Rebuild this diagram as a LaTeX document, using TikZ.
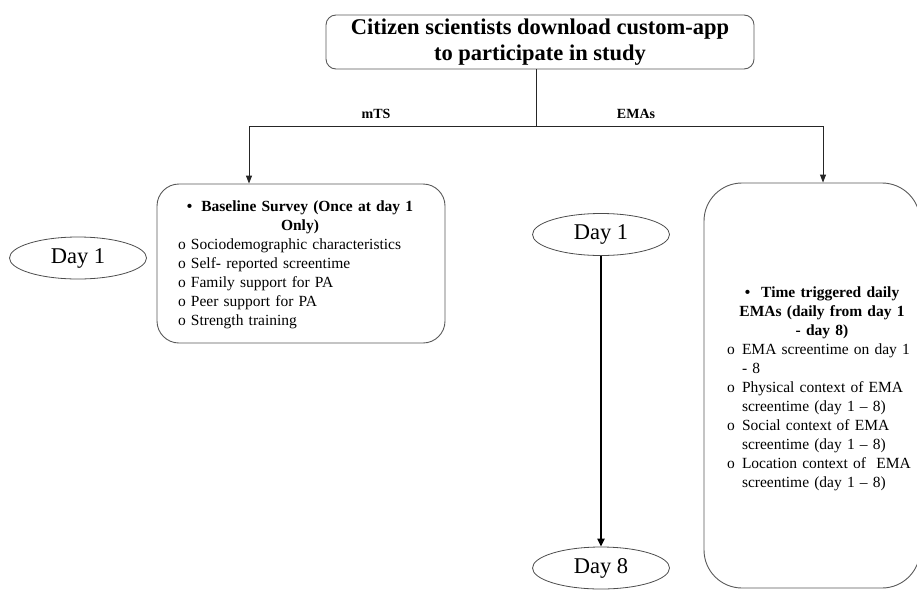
\documentclass[tikz,border=0pt]{standalone}
\usepackage{fontspec}
\setmainfont{Liberation Serif}
\usetikzlibrary{shapes.geometric,arrows.meta}

\begin{document}
\begin{tikzpicture}[x=1pt, y=-1pt,
	titlebox/.style={draw=black!65, line width=0.9pt, rounded corners=10pt, align=center, inner sep=0pt, font=\fontsize{22.5}{26}\selectfont\bfseries},
	surveybox/.style={draw=black!65, line width=0.9pt, rounded corners=22pt, inner sep=0pt},
	emabox/.style={draw=black!65, line width=0.9pt, rounded corners=38pt, inner sep=0pt},
	dayoval/.style={ellipse, draw=black!70, line width=0.8pt, minimum width=137pt, minimum height=42pt, inner sep=0pt, font=\fontsize{22.5}{27}\selectfont},
	itemtext/.style={inner sep=0pt, align=left, font=\fontsize{15.5}{19}\selectfont},
	branchlbl/.style={inner sep=0pt, font=\fontsize{14}{16}\selectfont\bfseries},
	link/.style={draw=black!85, line width=0.9pt, -{Triangle[width=6pt,length=8pt]}}]
	\useasboundingbox (0,0) rectangle (917,589);

	\node[titlebox, minimum width=428pt, minimum height=54pt] (title) at (540,42) {Citizen scientists download custom-app\\to participate in study};

	% the two branches
	\coordinate (split) at (536,126);
	\coordinate (mtsturn) at (249,126);
	\coordinate (ematurn) at (823,126);
	\node[branchlbl] (mtslbl) at (376,114) {mTS};
	\node[branchlbl] (emalbl) at (636,114) {EMAs};

	\node[surveybox, minimum width=288pt, minimum height=159pt] (survey) at (301,263.5) {};
	\node[emabox, minimum width=216pt, minimum height=405pt] (ema) at (812,385.5) {};

	\draw[draw=black!85, line width=0.9pt] (title.south -| split) -- (split);
	\draw[link] (split) -- (mtsturn) -- (mtsturn |- survey.north);
	\draw[link] (split) -- (ematurn) -- (ematurn |- ema.north);

	\node[itemtext, text width=244pt] (surveytext) at (300,265) {%
		\centering\textbf{\textbullet\hspace{9pt}Baseline Survey (Once at day 1\\Only)}\par
		\raggedright
		\makebox[13pt][l]{o}Sociodemographic characteristics\par
		\makebox[13pt][l]{o}Self- reported screentime\par
		\makebox[13pt][l]{o}Family support for PA\par
		\makebox[13pt][l]{o}Peer support for PA\par
		\makebox[13pt][l]{o}Strength training\par};

	\node[itemtext, text width=190pt] (ematext) at (822,389) {%
		\centering\textbf{\textbullet\hspace{11pt}Time triggered daily\\EMAs (daily from day 1\\- day 8)}\par
		\raggedright
		\hangindent=15pt\hangafter=1\makebox[15pt][l]{o}EMA screentime on day 1\newline - 8\par
		\hangindent=15pt\hangafter=1\makebox[15pt][l]{o}Physical context of EMA\newline screentime (day 1 -- 8)\par
		\hangindent=15pt\hangafter=1\makebox[15pt][l]{o}Social context of EMA\newline screentime (day 1 -- 8)\par
		\hangindent=15pt\hangafter=1\makebox[15pt][l]{o}Location context of\ \ EMA\newline screentime (day 1 -- 8)\par};

	% days
	\node[dayoval] (dayone) at (78,258) {Day 1};
	\node[dayoval] (daystart) at (601,234.5) {Day 1};
	\node[dayoval] (dayend) at (601,568) {Day 8};
	\draw[draw=black, line width=2pt, -{Triangle[width=7pt,length=8pt]}] (daystart) -- (dayend);

\end{tikzpicture}
\end{document}
